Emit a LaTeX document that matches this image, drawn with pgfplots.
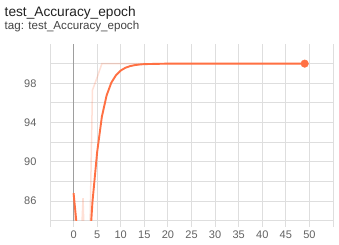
\documentclass[border=0pt]{standalone}
\usepackage{fontspec}
\setmainfont{Liberation Sans}
\usepackage{pgfplots}
\pgfplotsset{compat=1.18}
\definecolor{tbor}{HTML}{FF7043}
\definecolor{gridgray}{HTML}{DEDEDE}
\definecolor{zerogray}{HTML}{9E9E9E}
\definecolor{labgray}{HTML}{616161}
\definecolor{titlecol}{HTML}{212121}
\begin{document}
\begin{tikzpicture}[x=1pt,y=1pt]
\path[use as bounding box] (0,0) rectangle (339,245);
\node[anchor=base west, font=\fontsize{13.7}{15}\selectfont, text=titlecol, inner sep=0] at (4.5,228.3) {test\_Accuracy\_epoch};
\node[anchor=base west, font=\fontsize{11.6}{13}\selectfont, text=titlecol!85, inner sep=0] at (4.5,215.7) {tag: test\_Accuracy\_epoch};
\begin{axis}[
  at={(50pt,24.3pt)}, anchor=south west,
  scale only axis, width=283pt, height=176.7pt,
  xmin=-5, xmax=55, ymin=84, ymax=102,
  xtick={-5,0,...,55},
  xticklabels={,0,5,10,15,20,25,30,35,40,45,50,},
  ytick={86,90,94,98},
  minor ytick={84,88,92,96,100},
  grid=both,
  grid style={draw=gridgray, line width=1pt},
  minor grid style={draw=gridgray, line width=1pt},
  axis line style={draw=none},
  xtick pos=bottom, tick align=outside,
  major tick length=6pt,
  x tick style={draw=gridgray, line width=1pt},
  y tick style={draw=none},
  minor tick length=0pt,
  tick label style={font=\fontsize{11}{13}\selectfont, text=labgray},
  /pgf/number format/assume math mode=true,
  xticklabel style={yshift=-1pt},
  yticklabel style={xshift=-4pt},
]
\draw[zerogray, line width=1pt] (axis cs:0,84) -- (axis cs:0,102);
\addplot[tbor, draw opacity=0.22, line width=1.5pt, mark=none] coordinates {
(0,86.8) (1,74.5) (2,86.3) (3,70.3) (4,97.3) (5,98.6) (6,100) (7,100) (8,100) (9,100)
(10,100) (15,100) (16,99.97) (17,100) (20,100) (25,100) (30,100) (35,100) (40,100) (45,100) (49,100)
};
\addplot[tbor, line width=1.9pt, mark=none, line join=round] coordinates {
(0,86.8) (1,81.9) (2,83.66) (3,78.3) (4,85.9) (5,91.0) (6,94.6) (7,96.76) (8,98.06) (9,98.83)
(10,99.30) (11,99.58) (12,99.75) (13,99.85) (14,99.91) (15,99.95) (16,99.96) (17,99.97) (18,99.98)
(19,99.99) (20,100) (25,100) (30,100) (35,100) (40,100) (45,100) (49,100)
};
\addplot[only marks, mark=*, mark size=3.8pt, tbor, mark options={draw=tbor, fill=tbor}] coordinates {(49,100)};
\end{axis}
\end{tikzpicture}
\end{document}
